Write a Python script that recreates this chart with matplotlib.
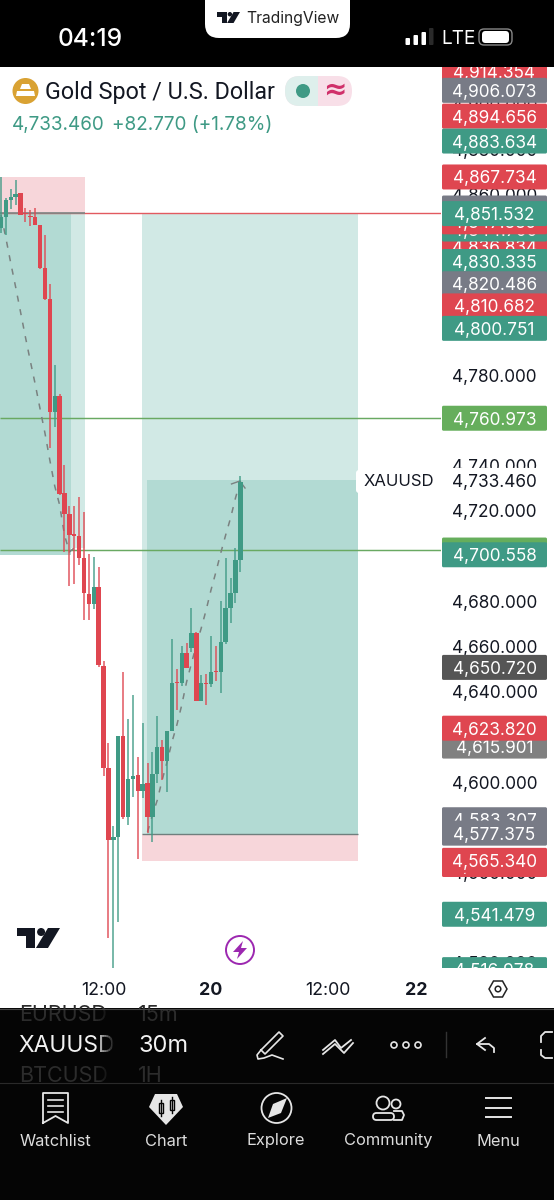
#!/usr/bin/env python3
# -*- coding: utf-8 -*-
import matplotlib
matplotlib.use("Agg")
import matplotlib.pyplot as plt
from matplotlib.patches import Rectangle, FancyBboxPatch, Circle, Polygon

plt.rcParams["font.family"] = ["Inter", "DejaVu Sans"]

# candles, 30m bars of XAUUSD
opens = [4845.1, 4850.0, 4857.5, 4858.8, 4860.6, 4851.8, 4850.5, 4850.0, 4846.4, 4827.4,
         4813.7, 4763.7, 4770.8, 4727.8, 4718.6, 4709.7, 4708.8, 4699.2, 4683.2, 4678.7,
         4686.3, 4651.3, 4606.2, 4574.3, 4575.6, 4620.3, 4584.5, 4601.3, 4603.1, 4596.0,
         4599.6, 4584.5, 4603.5, 4615.5, 4609.3, 4622.6, 4644.3, 4643.8, 4657.1, 4659.3,
         4665.9, 4635.8, 4643.8, 4643.4, 4649.1, 4648.7, 4661.9, 4677.0, 4683.7, 4698.2]
highs = [4867.7, 4858.4, 4862.4, 4866.4, 4860.6, 4854.0, 4853.1, 4854.0, 4846.4, 4842.0,
         4820.4, 4784.5, 4771.6, 4740.2, 4722.1, 4722.1, 4726.1, 4719.5, 4700.9, 4699.6,
         4695.1, 4653.6, 4617.2, 4580.6, 4620.3, 4648.7, 4627.9, 4638.4, 4611.1, 4626.1,
         4608.5, 4613.3, 4629.2, 4618.6, 4622.6, 4663.3, 4650.0, 4660.2, 4661.5, 4677.0,
         4666.3, 4647.3, 4647.8, 4664.6, 4660.2, 4680.1, 4699.2, 4690.3, 4703.6, 4735.4]
lows = [4842.9, 4842.0, 4853.6, 4855.3, 4850.9, 4847.9, 4846.0, 4846.4, 4827.2, 4813.5,
        4747.8, 4757.0, 4727.0, 4701.8, 4686.8, 4687.6, 4696.0, 4671.7, 4671.7, 4676.5,
        4650.8, 4602.6, 4530.9, 4517.7, 4538.1, 4583.6, 4581.0, 4593.4, 4566.0, 4593.0,
        4577.4, 4573.4, 4599.6, 4600.9, 4595.6, 4622.6, 4631.8, 4642.5, 4650.4, 4657.5,
        4635.8, 4635.8, 4634.0, 4642.1, 4644.7, 4639.4, 4661.1, 4670.4, 4679.2, 4692.9]
closes = [4850.0, 4857.5, 4858.8, 4860.2, 4850.9, 4851.4, 4850.0, 4846.4, 4827.4, 4813.7,
          4763.7, 4770.8, 4727.4, 4718.6, 4709.3, 4708.8, 4699.2, 4683.7, 4678.7, 4686.3,
          4651.7, 4606.2, 4574.3, 4575.6, 4620.3, 4584.5, 4601.3, 4602.6, 4596.0, 4599.1,
          4584.5, 4603.5, 4615.5, 4609.3, 4622.6, 4643.8, 4643.8, 4657.1, 4650.4, 4665.9,
          4635.8, 4643.8, 4643.4, 4648.7, 4648.7, 4661.9, 4677.0, 4683.7, 4698.2, 4732.8]

# the two dashed projection paths
path_left = [4851.0, 4840.7, 4829.6, 4819.0, 4808.0, 4796.9, 4786.3, 4776.1,
             4765.1, 4754.4, 4742.4, 4731.0, 4722.6, 4709.3, 4701.8, 4703.6]
path_right = [4577.9, 4585.4, 4592.0, 4600.9, 4608.9, 4617.7, 4625.2, 4634.0, 4644.3, 4652.6,
              4660.6, 4668.1, 4676.1, 4685.0, 4692.9, 4701.4, 4709.3, 4716.8, 4725.6, 4733.2]

# price scale labels, painted in this order
plain_ticks = [4900, 4880, 4860, 4780, 4740, 4720, 4680, 4660, 4640, 4600, 4560, 4520]
label_prices = [4914.354, 4906.073, 4894.656, 4883.634, 4867.734, 4854.000, 4836.834, 4844.700,
                4847.889, 4851.532, 4830.335, 4820.486, 4810.682, 4800.751, 4760.973, 4733.460,
                4702.650, 4700.558, 4650.720, 4615.901, 4623.820, 4583.307, 4577.375, 4563.500,
                4565.340, 4541.479, 4516.978]
label_kinds = ["red", "gray", "red", "teal", "red", "gray", "red", "teal",
               "red", "teal", "teal", "gray", "red", "teal", "green", "white",
               "green", "teal", "dark", "mid", "red", "gray", "gray", "red",
               "red", "teal", "teal"]

time_ticks = [21, 43, 67, 85]
time_labels = ["12:00", "20", "12:00", "22"]

RED = "#df4650"
TEAL = "#3f9a85"
GREEN = "#66ae5c"
DARK_BOX = "#b2dad3"
LIGHT_BOX = "#d1e9e5"
PINK = "#f7d6da"
kinds = {"red": RED, "teal": TEAL, "green": GREEN, "gray": "#787b86", "mid": "#808080",
         "dark": "#555555", "white": "white"}

fig = plt.figure(figsize=(5.54, 12), dpi=100, facecolor="white")

# page furniture lives on a pixel canvas
bg = fig.add_axes([0, 0, 1, 1])
bg.set_xlim(0, 554)
bg.set_ylim(1200, 0)
bg.axis("off")

def px_text(x, y, s, size, color="black", ha="left", **kw):
    bg.text(x, y, s, fontsize=size * 0.72, color=color, ha=ha, va="center", **kw)

def tv_logo(canvas, x, y, w, h, color):
    canvas.add_patch(Polygon([(x, y), (x + w * .42, y), (x + w * .42, y + h), (x + w * .2, y + h),
                              (x + w * .2, y + h * .42), (x, y + h * .42)], color=color, lw=0))
    canvas.add_patch(Circle((x + w * .56, y + h * .2), h * .2, color=color, lw=0))
    canvas.add_patch(Polygon([(x + w * .72, y), (x + w, y), (x + w * .72, y + h), (x + w * .44, y + h)],
                             color=color, lw=0))

# top bar
bg.add_patch(Rectangle((0, 0), 554, 67, color="black", lw=0))
bg.add_patch(FancyBboxPatch((205, -30), 145, 68, boxstyle="round,pad=0,rounding_size=14",
                            fc="white", ec="none"))
tv_logo(bg, 217, 12, 23, 11, "#131722")
px_text(246, 18, "TradingView", 15.6, color="#222222")
px_text(58, 39, "04:19", 24.5, color="white", fontweight="medium")
for bx, top, col in zip([405.5, 413.5, 421.5, 429], [38, 35, 32, 28], ["white", "white", "white", "#2a2a2a"]):
    bg.add_patch(FancyBboxPatch((bx, top), 4.5, 45 - top, boxstyle="round,pad=0,rounding_size=1",
                                fc=col, ec="none"))
px_text(441, 39, "LTE", 19, color="white")
bg.add_patch(FancyBboxPatch((479, 29), 33, 16, boxstyle="round,pad=0,rounding_size=5",
                            fc="black", ec="#888888", lw=1))
bg.add_patch(FancyBboxPatch((482, 31), 27, 12, boxstyle="round,pad=0,rounding_size=3.5",
                            fc="white", ec="none"))

# symbol header
bg.add_patch(Circle((25.5, 91), 13, color="#d9a233", lw=0))
bg.add_patch(Polygon([(22, 84), (29, 84), (31, 89), (20, 89)], color="white", lw=0))
bg.add_patch(Polygon([(17, 91), (34, 91), (35, 96), (16, 96)], color="white", lw=0))
px_text(45, 93, "Gold Spot / U.S. Dollar", 23.2, color="#131722", family="Roboto")
px_text(12, 125, "4,733.460", 18.8, color=TEAL)
px_text(112, 125, "+82.770 (+1.78%)", 19, color=TEAL)
bg.add_patch(FancyBboxPatch((285, 76), 67, 30, boxstyle="round,pad=0,rounding_size=15",
                            fc="#f8dfe8", ec="none"))
left_half = FancyBboxPatch((285, 76), 67, 30, boxstyle="round,pad=0,rounding_size=15",
                           fc="#deefec", ec="none")
bg.add_patch(left_half)
left_half.set_clip_path(Rectangle((285, 70), 33, 42, transform=bg.transData))
bg.add_patch(Circle((303, 91), 7, color=TEAL, lw=0))
px_text(335, 90, "≈", 28, color="#d0306a", ha="center", fontweight="bold", family="DejaVu Sans")

# candle area, same scale all the way down to the last visible price
Y_TOP, Y_BOTTOM = 4916.4, 4517.7
ax = fig.add_axes([0, 1 - 968 / 1200, 441 / 554, (968 - 67) / 1200])
ax.patch.set_alpha(0)
for s in ax.spines.values():
    s.set_visible(False)
ax.set_xlim(-0.205, 90.09)
ax.set_ylim(Y_BOTTOM, Y_TOP)
ax.set_yticks([])
ax.set_xticks(time_ticks)
ax.set_xticklabels(time_labels, fontsize=12.8, color="#131722")
ax.tick_params(axis="x", length=0, pad=10)
for lab in (ax.get_xticklabels()[1], ax.get_xticklabels()[3]):
    lab.set_fontweight("bold")

# position boxes
ax.add_patch(Rectangle((-0.205, 4851.532), 17.4, 4867.734 - 4851.532, color=PINK, lw=0))
ax.add_patch(Rectangle((-0.205, 4703.5), 17.4, 4851.532 - 4703.5, color=LIGHT_BOX, lw=0))
ax.add_patch(Rectangle((-0.205, 4700.558), 14.5, 4851.532 - 4700.558, color=DARK_BOX, lw=0))
ax.add_patch(Rectangle((28.87, 4564.9), 44.25, 4576.8 - 4564.9, color=PINK, lw=0))
ax.add_patch(Rectangle((28.87, 4576.8), 44.25, 4851.532 - 4576.8, color=LIGHT_BOX, lw=0))
ax.add_patch(Rectangle((29.9, 4576.8), 43.22, 4733.46 - 4576.8, color=DARK_BOX, lw=0))

ax.hlines(4851.7, -0.205, 90.09, color="#e25a60", lw=1.0, zorder=2)
ax.hlines(4851.7, -0.205, 17.2, color="#7c8886", lw=1.2, zorder=2)
ax.hlines(4760.973, -0.205, 90.09, color="#69a962", lw=1.05, zorder=2)
ax.hlines(4702.650, -0.205, 90.09, color="#69a962", lw=1.05, zorder=2)
ax.hlines(4576.8, 28.87, 73.1, color="#6f7f7d", lw=1.0, zorder=2)

# dashed paths
dash = dict(color="#7a8180", lw=1.1, dashes=(4, 5), zorder=2.5)
ax.plot(range(len(path_left)), path_left, **dash)
ax.plot(range(30, 30 + len(path_right)), path_right, **dash)
ax.plot([47.2, 48.9, 49.96], [4731.9, 4733.2, 4730.1], color="#7a8180", lw=1.0, zorder=2.5)

# candles
for i in range(len(opens)):
    col = TEAL if closes[i] >= opens[i] else RED
    ax.vlines(i, lows[i], highs[i], color=col, lw=1.1, alpha=0.9, zorder=3)
    body = abs(closes[i] - opens[i])
    ax.bar(i, max(body, 0.6), bottom=min(opens[i], closes[i]), width=0.9, color=col, lw=0, zorder=3.5)

# price column
price_ax = fig.add_axes([441 / 554, 1 - 968 / 1200, 113 / 554, (968 - 67) / 1200])
price_ax.set_xlim(441, 554)
price_ax.set_ylim(Y_BOTTOM, Y_TOP)
price_ax.axis("off")
box_h = 25 / 2.26
z = 5
for p in plain_ticks:
    price_ax.text(494.5, p, f"{p:,.3f}", fontsize=12.4, color="#131722", ha="center",
                  va="center_baseline", clip_on=True, zorder=z)
for p, k in zip(label_prices, label_kinds):
    z += 1
    price_ax.add_patch(FancyBboxPatch((442, p - box_h / 2), 105, box_h,
                                      boxstyle="round,pad=0,rounding_size=1.5", mutation_aspect=1 / 2.26,
                                      fc=kinds[k], ec="none", zorder=z))
    price_ax.text(494.5, p, f"{p:,.3f}", fontsize=12.4, ha="center", va="center_baseline",
                  color="#131722" if k == "white" else "white", clip_on=True, zorder=z)

# everything above the chart goes on a second pixel canvas
over = fig.add_axes([0, 0, 1, 1])
over.set_xlim(0, 554)
over.set_ylim(1200, 0)
over.axis("off")
bg.set_zorder(0)
ax.set_zorder(1)
price_ax.set_zorder(2)
over.set_zorder(3)

over.add_patch(FancyBboxPatch((356, 470), 85, 23, boxstyle="round,pad=0,rounding_size=3", fc="white", ec="none", zorder=9))
over.text(399, 481.5, "XAUUSD", fontsize=12, color="#131722", ha="center", va="center", zorder=10)

# watermark logo and lightning badge
tv_logo(over, 17, 928, 43, 20, "#131722")
over.add_patch(Circle((240, 950), 14, fc="white", ec="#9c27b0", lw=1.4))
over.add_patch(Polygon([(243, 941), (233, 952), (239, 952), (237, 959), (247, 948), (241, 948)],
                       color="#9c27b0", lw=0))

# gear on the time scale
over.add_patch(Polygon([(489, 989), (493.5, 981), (502.5, 981), (507, 989), (502.5, 997), (493.5, 997)],
                       fc="white", ec="#222222", lw=1.1))
over.add_patch(Circle((498, 989), 2.8, fc="white", ec="#222222", lw=1.1))

# bottom toolbar and navigation
over.add_patch(Rectangle((0, 1008), 554, 192, color="#050505", lw=0))
clip = Rectangle((0, 1009), 554, 72, transform=over.transData)
for tx, ty, s in [(19, 1015, "EURUSD"), (138, 1015, "15m"), (19, 1076, "BTCUSD"), (138, 1076, "1H")]:
    item = over.text(tx, ty, s, fontsize=15.5, color="#2c2c2c", va="center", zorder=3)
    item.set_clip_path(clip)
over.text(18, 1046, "XAUUSD", fontsize=16.5, color="#f2f2f2", va="center", zorder=3)
over.text(138, 1046, "30m", fontsize=17, color="#f2f2f2", va="center", zorder=3)
# the symbol wheel fades out towards the timeframe column
for k in range(10):
    over.add_patch(Rectangle((96 + k * 2, 1009), 2.2, 72, color="#050505", alpha=(k + 1) / 10, lw=0, zorder=4))
over.add_patch(Rectangle((116, 1009), 18, 72, color="#050505", lw=0, zorder=4))
over.plot([0, 554], [1008.5, 1008.5], color="#444444", lw=0.8, zorder=5)
over.plot([0, 554], [1082.5, 1082.5], color="#2a2a2a", lw=0.8, zorder=5)

lc = "#e6e6e6"
# pen
over.plot([261, 279, 283, 265, 261], [1050, 1032, 1036, 1054, 1050], color=lc, lw=1.2)
over.plot([261, 257, 258, 264, 272, 283], [1050, 1055, 1059, 1058, 1055, 1059], color=lc, lw=1.2)
# zigzag
over.plot([323, 335, 341, 351], [1050, 1040, 1048, 1040], color=lc, lw=1.3)
over.plot([323, 335, 344, 353], [1054, 1044, 1053, 1043], color=lc, lw=1.3)
# dots
for dx in [394, 406, 418]:
    over.add_patch(Circle((dx, 1045), 3, fc="none", ec=lc, lw=1.2))
over.plot([446, 446], [1032, 1057], color="#333333", lw=1)
# undo
over.plot([485, 477, 485], [1038, 1044, 1050], color=lc, lw=1.3)
over.plot([477, 489, 494, 494], [1044, 1044, 1048, 1052], color=lc, lw=1.3)
# fullscreen corner pieces
over.plot([552, 545, 541, 541], [1032, 1032, 1036, 1042], color=lc, lw=1.3)
over.plot([541, 541, 545, 552], [1050, 1055, 1058, 1058], color=lc, lw=1.3)

for cx, name in zip([55, 166, 276, 388, 498], ["Watchlist", "Chart", "Explore", "Community", "Menu"]):
    over.text(cx, 1141, name, fontsize=11.8, color="#dddddd", ha="center", va="center")

# watchlist
over.plot([43, 43, 68, 68, 55.5, 43], [1123, 1093, 1093, 1123, 1116, 1123], color=lc, lw=1.3)
for ly in [1100, 1106, 1112]:
    over.plot([48, 63], [ly, ly], color=lc, lw=1.2)
# chart
over.add_patch(Polygon([(155, 1094), (177, 1094), (183, 1107), (166, 1125), (149, 1107)], color=lc, lw=0))
for cx_, by, bh in [(161, 1103, 10), (172, 1100, 10)]:
    over.add_patch(Rectangle((cx_ - 2, by), 4, bh, fc=lc, ec="#050505", lw=1))
    over.plot([cx_, cx_], [by - 3, by + bh + 3], color="#050505", lw=1)
# explore
over.add_patch(Circle((276.5, 1108), 15, fc="none", ec=lc, lw=1.3))
over.add_patch(Polygon([(287, 1098), (281, 1113), (268, 1118), (273, 1104)], color=lc, lw=0))
# community
over.add_patch(Circle((383, 1103), 6.5, fc="none", ec=lc, lw=1.3))
over.add_patch(Circle((396, 1104), 4.5, fc="none", ec=lc, lw=1.3))
over.add_patch(FancyBboxPatch((373, 1113), 21, 7, boxstyle="round,pad=0,rounding_size=3.5", fc="none", ec=lc, lw=1.3))
over.plot([394, 402, 404, 402, 394], [1111, 1111, 1115, 1120, 1120], color=lc, lw=1.3)
# menu
for ly in [1098, 1108, 1117]:
    over.plot([486, 511], [ly, ly], color=lc, lw=1.4)

over.set_xlim(0, 554)
over.set_ylim(1200, 0)
fig.savefig("out.png", dpi=100)
